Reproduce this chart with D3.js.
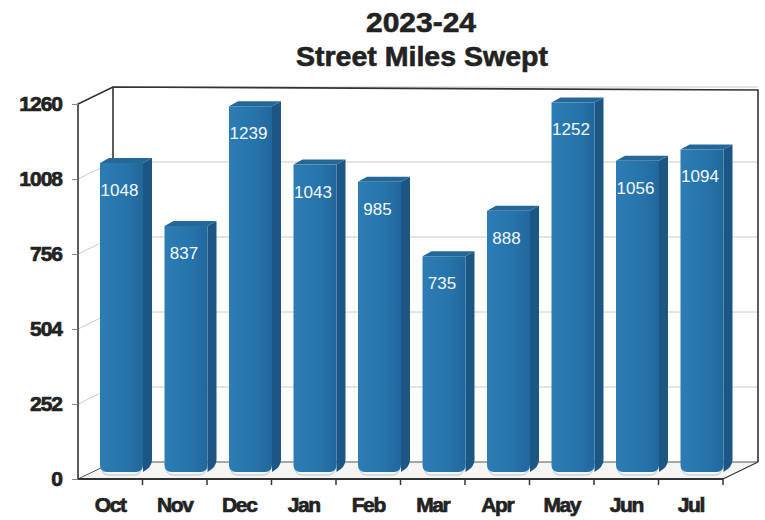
<!DOCTYPE html>
<html><head><meta charset="utf-8">
<script src="https://cdn.jsdelivr.net/npm/d3@7"></script>
<style>body{margin:0;background:#fff}svg{display:block}</style>
</head><body>
<svg id="c" width="765" height="520"></svg>
<script>
const categories = ["Oct","Nov","Dec","Jan","Feb","Mar","Apr","May","Jun","Jul"];
const milesSwept = [1048,837,1239,1043,985,735,888,1252,1056,1094];
const yTicks = [0,252,504,756,1008,1260];
const titleLines = ["2023-24","Street Miles Swept"];

const svg = d3.select("#c");
const x = d3.scaleBand().domain(categories).range([78, 723]);
const y = d3.scaleLinear().domain([0, 1260]).range([479, 104]);
const DX = 35, DY = -17;        // wall depth
const x0 = x.range()[0], x1 = x.range()[1];
const yb = y(0), yt = y(1260);

const defs = svg.append("defs");
const gF = defs.append("linearGradient").attr("id","front").attr("x1","0").attr("x2","1").attr("y1","0").attr("y2","0");
gF.append("stop").attr("offset","0").attr("stop-color","#2d7cb4");
gF.append("stop").attr("offset","0.6").attr("stop-color","#2774ac");
gF.append("stop").attr("offset","1").attr("stop-color","#21679b");

// walls
svg.append("polygon").attr("points",[[x0+DX,yt+DY],[x1+DX,yt+DY],[x1+DX,yb+DY],[x0+DX,yb+DY]].join(" ")).attr("fill","#fff");
svg.append("polygon").attr("points",[[x0,yb],[x1,yb],[x1+DX,yb+DY],[x0+DX,yb+DY]].join(" ")).attr("fill","#f5f5f3");

// gridlines
svg.append("g").selectAll("path").data(yTicks).join("path")
  .attr("d", t => `M${x0},${y(t)}L${x0+DX},${y(t)+DY}L${x1+DX},${y(t)+DY}`)
  .attr("fill","none").attr("stroke", t => t===0 ? "#555" : "#cfcac2").attr("stroke-width",1);

// frame edges
const frame = svg.append("g").attr("fill","none").attr("stroke","#333").attr("stroke-width",1.6);
frame.append("path").attr("d",`M${x0},${yb}L${x0},${yt}L${x0+DX},${yt+DY}L${x1+DX},${yt+DY+3}L${x1+DX},${yb+DY}`);
frame.append("path").attr("d",`M${x0+DX},${yt+DY}L${x0+DX},${yb+DY}`);
frame.append("path").attr("d",`M${x1},${yb}L${x1+DX},${yb+DY}`).attr("stroke-width",1.2);
frame.append("path").attr("d",`M${x0},${yb}L${x1},${yb}`).attr("stroke-width",2.2);

// bars
const pad = 22, bw = 43, bdx = 9, bdy = -5, off = -4, r = 7;
const bars = svg.append("g").selectAll("g").data(categories).join("g");
bars.each(function(c, i){
  const g = d3.select(this);
  const v = milesSwept[i];
  const L = x(c) + pad, R = L + bw;
  const top = y(v) + off, bot = y(0) + off - 3;
  g.append("path").attr("d",`M${R},${top}L${R+bdx},${top+bdy}L${R+bdx},${bot+bdy-r}Q${R+bdx},${bot+bdy} ${R},${bot}Z`).attr("fill","#1c5684");
  g.append("path").attr("d",`M${L},${top}L${L+bdx},${top+bdy}L${R+bdx},${top+bdy}L${R},${top}Z`).attr("fill","#246898");
  g.append("path").attr("d",`M${L},${top}L${R},${top}L${R},${bot-r}Q${R},${bot} ${R-r},${bot}L${L+r},${bot}Q${L},${bot} ${L},${bot-r}Z`).attr("fill","url(#front)");
  g.append("path").attr("d",`M${L+2},${bot-2}Q${L+3},${bot+3} ${L+r+2},${bot+3}L${R-r-2},${bot+3}Q${R-3},${bot+3} ${R-2},${bot-2}`)
    .attr("fill","none").attr("stroke","#a9c4da").attr("stroke-width",1);
  g.append("text").attr("x",(L+R)/2 - 2).attr("y",top+33).attr("text-anchor","middle")
    .attr("font-family","Liberation Sans, Arial, sans-serif").attr("font-size",17).attr("fill","#f4f8ff").text(v);
});

// y axis
const ya = svg.append("g").attr("transform",`translate(${x0},0)`)
  .call(d3.axisLeft(y).tickValues(yTicks).tickSize(6).tickPadding(10).tickFormat(d3.format("d")));
ya.select(".domain").remove();
ya.selectAll("line").attr("stroke","#888");
ya.selectAll("text").attr("font-family","Liberation Sans, Arial, sans-serif").attr("font-weight","bold")
  .attr("font-size",21).attr("fill","#222").attr("stroke","#222").attr("stroke-width",0.7).attr("letter-spacing","-1px");

// x axis
const xa = svg.append("g").attr("transform",`translate(0,${yb})`)
  .call(d3.axisBottom(x).tickSize(0).tickPadding(18));
xa.select(".domain").remove();
xa.selectAll("text").attr("font-family","Liberation Sans, Arial, sans-serif").attr("font-weight","bold")
  .attr("font-size",21).attr("fill","#222").attr("stroke","#222").attr("stroke-width",0.7).attr("letter-spacing","-1.4px");
svg.append("g").selectAll("line").data(categories.slice(1).concat(["__end"])).join("line")
  .attr("x1", c => c==="__end" ? x1 : x(c)).attr("x2", c => c==="__end" ? x1 : x(c))
  .attr("y1", yb).attr("y2", yb+6).attr("stroke","#333").attr("stroke-width",1.5);

// title
const tt = svg.append("g").attr("font-family","Liberation Sans, Arial, sans-serif").attr("font-weight","bold")
  .attr("fill","#222").attr("stroke","#222").attr("stroke-width",0.6).attr("text-anchor","middle");
tt.append("text").attr("x",421).attr("y",32).attr("font-size",28).attr("textLength",110).attr("lengthAdjust","spacingAndGlyphs").text(titleLines[0]);
tt.append("text").attr("x",422).attr("y",66).attr("font-size",28).attr("textLength",252).attr("lengthAdjust","spacingAndGlyphs").text(titleLines[1]);
</script>
</body></html>
